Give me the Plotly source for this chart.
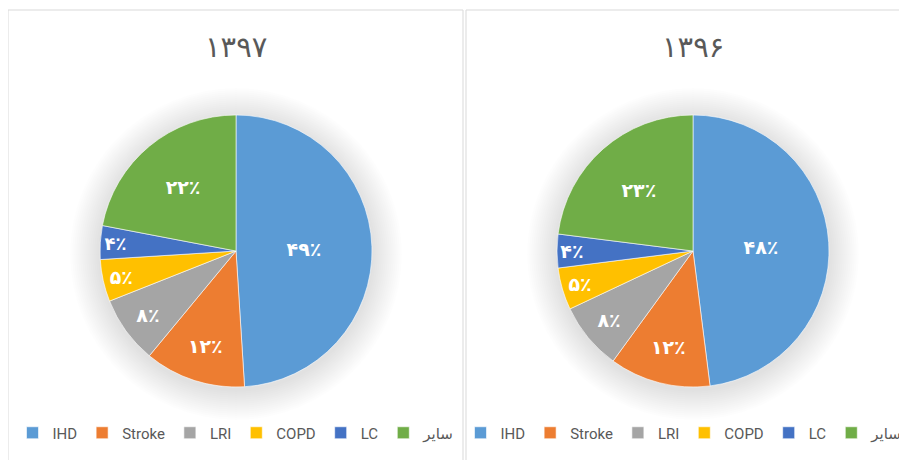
import plotly.graph_objects as go

categories = ["IHD", "Stroke", "LRI", "COPD", "LC", "سایر"]
values_1397 = [49, 12, 8, 5, 4, 22]
values_1396 = [48, 12, 8, 5, 4, 23]
titles = ["۱۳۹۷", "۱۳۹۶"]
colors = ["#5B9BD5", "#ED7D31", "#A5A5A5", "#FFC000", "#4472C4", "#70AD47"]

# the page body adds an 8px margin; size the figure so it fills the window
OFF = 8
W, H = 907 - OFF, 460 - OFF
FA = str.maketrans("0123456789", "۰۱۲۳۴۵۶۷۸۹")


def fa_pct(v):
    return str(v).translate(FA) + "٪"


def px(x):
    return (x - OFF) / W


def py(y):
    return 1 - (y - OFF) / H


fig = go.Figure()
R = 136
CY = 251
centers = [236, 693]
legends = ["legend", "legend2"]
# pie legend entries are shared by label across traces; a zero-width suffix
# keeps the second chart's legend separate while looking identical
suffixes = ["", "\u200b"]
for vals, cx, lg, sfx in zip([values_1397, values_1396], centers, legends, suffixes):
    fig.add_trace(go.Pie(
        labels=[c + sfx for c in categories],
        values=vals,
        text=[fa_pct(v) for v in vals],
        texttemplate="%{text}",
        textinfo="text",
        textposition="inside",
        insidetextorientation="horizontal",
        textfont=dict(color="white", size=19, family="DejaVu Sans", weight="bold"),
        marker=dict(colors=colors, line=dict(color="white", width=0.6)),
        sort=False,
        direction="clockwise",
        rotation=0,
        hoverinfo="label+percent",
        domain=dict(x=[px(cx - R), px(cx + R)], y=[py(CY + R), py(CY - R)]),
        legend=lg,
    ))

shapes = []
# soft shadow halos
for cx in centers:
    for k in range(1, 16):
        r = R + k * 2
        shapes.append(dict(type="circle", xref="paper", yref="paper",
                           x0=px(cx - r), x1=px(cx + r),
                           y0=py(CY + 3 + r), y1=py(CY + 3 - r),
                           fillcolor="rgba(0,0,0,0.008)", line=dict(width=0),
                           layer="below"))
# panel borders
shapes.append(dict(type="rect", xref="paper", yref="paper",
                   x0=px(8), x1=px(463), y0=py(470), y1=py(10),
                   line=dict(color="#D9D9D9", width=1), fillcolor="rgba(0,0,0,0)",
                   layer="below"))
shapes.append(dict(type="rect", xref="paper", yref="paper",
                   x0=px(466), x1=px(915), y0=py(470), y1=py(10),
                   line=dict(color="#D9D9D9", width=1), fillcolor="rgba(0,0,0,0)",
                   layer="below"))

annotations = []
for t, cx in zip(titles, centers):
    annotations.append(dict(text=t, x=px(cx), y=py(47), xref="paper", yref="paper",
                            showarrow=False, xanchor="center", yanchor="middle",
                            font=dict(size=29, color="#595959", family="DejaVu Sans")))

leg_common = dict(orientation="h", yanchor="middle", xanchor="center",
                  font=dict(size=15, color="#595959", family="Roboto, DejaVu Sans"),
                  itemwidth=30, bgcolor="rgba(0,0,0,0)", traceorder="normal")

fig.update_layout(
    width=W, height=H,
    margin=dict(l=0, r=0, t=0, b=0, autoexpand=False),
    paper_bgcolor="white",
    plot_bgcolor="white",
    shapes=shapes,
    annotations=annotations,
    legend=dict(x=px(236), y=py(433), **leg_common),
    legend2=dict(x=px(684), y=py(433), **leg_common),
)

fig.write_html("out.html")
